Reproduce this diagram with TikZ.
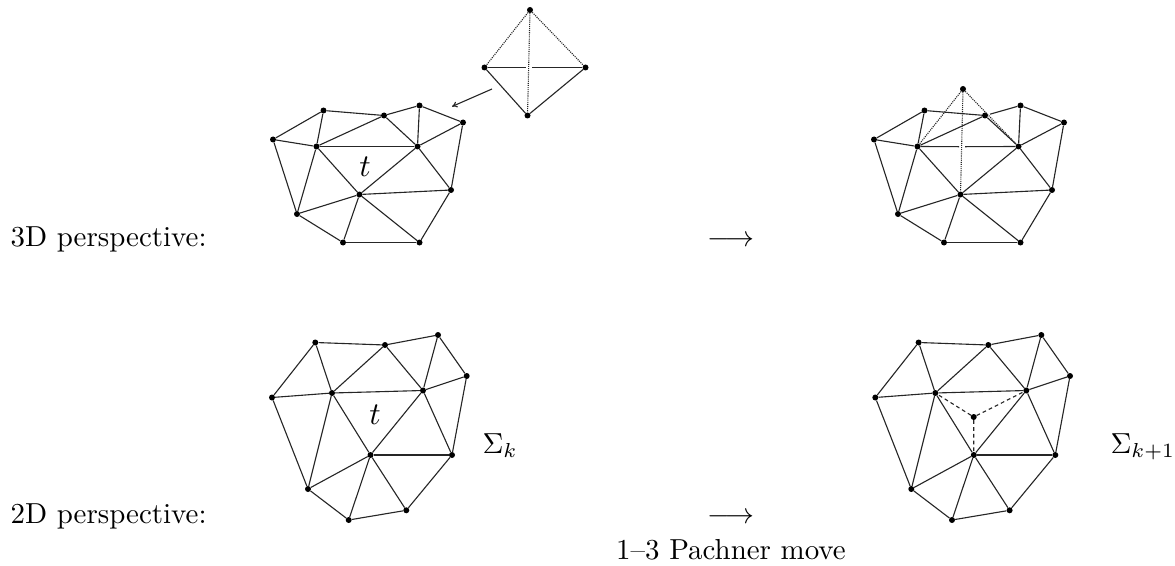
\documentclass[tikz,border=0pt]{standalone}
\usetikzlibrary{arrows.meta}
\tikzset{
  vertexdot/.style={circle, fill=black, inner sep=0pt, minimum size=0.18cm},
  edgeline/.style={line width=0.95pt, black!85},
  dottedline/.style={line width=0.95pt, black!85, dash pattern=on 0.9pt off 0.9pt},
  dashline/.style={line width=0.95pt, black!85, dash pattern=on 3.2pt off 2.6pt},
  movearrow/.style={-{To[length=1.6mm,width=1.8mm]}, line width=0.95pt, black!85},
  sidelabel/.style={scale=2.47, inner sep=0pt, anchor=base west},
  midlabel/.style={scale=2.47, inner sep=0pt, anchor=base},
  trianglelabel/.style={scale=2.7, inner sep=0pt, anchor=base},
}

% \threedmesh{prefix}{x offset}
\newcommand{\threedmesh}[2]{%
  \foreach \name/\px/\py in {a/273/139.5, b/323.5/110.5, c/384/115.5, d/419.5/105.5,
      e/463/122.5, f/316.5/146.5, g/417.5/146.5, h/451/190, i/359.5/194.5,
      j/297/214, k/343/242.5, l/419.5/242.5}
    \node[vertexdot] (#1\name) at (\px+#2,\py) {};
  \foreach \from/\to in {a/b, b/c, d/e, e/h, h/l, l/k, k/j, j/a, a/f, b/f, f/c, c/g,
      d/g, e/g, f/j, f/i, g/i, g/h, i/h, i/j, i/k, i/l}
    \draw[edgeline] (#1\from) -- (#1\to);
}
% \flatmesh{prefix}{x offset}
\newcommand{\flatmesh}[2]{%
  \foreach \name/\px/\py in {a/272/397.5, b/315.3/342.5, c/385/345, d/438/335,
      e/466.7/376, f/332/393, g/423/390.5, h/452/455, i/370.5/455,
      j/308/489, k/348.7/520, l/406.3/510.3}
    \node[vertexdot] (#1\name) at (\px+#2,\py) {};
  \foreach \from/\to in {a/b, b/c, c/d, d/e, e/h, h/l, l/k, k/j, j/a, a/f, b/f, c/f,
      c/g, d/g, e/g, f/g, f/j, f/i, g/i, g/h, i/h, i/j, i/k, i/l}
    \draw[edgeline] (#1\from) -- (#1\to);
}

\begin{document}
\begin{tikzpicture}[x=0.03cm, y=-0.03cm]
  \useasboundingbox (0,0) rectangle (1175,566);

  % top row, before the move
  \threedmesh{ta}{0}
  \draw[edgeline] (taf) -- (tag);
  \draw[edgeline] (tac) -- (tad);
  \node[trianglelabel] (tlabel) at (365,176.5) {$t$};

  % loose tetrahedron
  \node[vertexdot] (ptop) at (530,10) {};
  \node[vertexdot] (pleft) at (484.5,67.5) {};
  \node[vertexdot] (pright) at (585.5,67.5) {};
  \node[vertexdot] (pbottom) at (527.5,115.5) {};
  \coordinate (gapa) at (526,67.5);
  \coordinate (gapb) at (532,67.5);
  \draw[dottedline] (ptop) -- (pleft);
  \draw[dottedline] (ptop) -- (pright);
  \draw[dottedline] (ptop) -- (pbottom);
  \draw[edgeline] (pleft) -- (gapa);
  \draw[edgeline] (gapb) -- (pright);
  \draw[edgeline] (pleft) -- (pbottom);
  \draw[edgeline] (pright) -- (pbottom);
  \coordinate (arrowfrom) at (492,89);
  \coordinate (arrowto) at (452,106.5);
  \draw[movearrow] (arrowfrom) -- (arrowto);

  % top row, after the move
  \threedmesh{tb}{601}
  \node[vertexdot] (tbp) at (963,89) {};
  \coordinate (tbgapa) at (959,146.7);
  \coordinate (tbgapb) at (965,146.7);
  \coordinate (tbgapc) at (990,114.2);
  \draw[edgeline] (tbf) -- (tbgapa);
  \draw[edgeline] (tbgapb) -- (tbg);
  \draw[edgeline] (tbgapc) -- (tbd);
  \draw[dottedline] (tbp) -- (tbf);
  \draw[dottedline] (tbp) -- (tbg);
  \draw[dottedline] (tbp) -- (tbi);

  % bottom row
  \flatmesh{ba}{0}
  \node[trianglelabel] (blabel) at (375,424) {$t$};
  \flatmesh{bb}{603.3}
  \node[vertexdot] (bbp) at (973.7,417) {};
  \draw[dashline] (bbp) -- (bbf);
  \draw[dashline] (bbp) -- (bbg);
  \draw[dashline] (bbp) -- (bbi);

  % texts
  \node[sidelabel] (toptext) at (10,246.5) {3D perspective:};
  \node[sidelabel] (bottomtext) at (10,523) {2D perspective:};
  \node[midlabel] (toparrow) at (731,246.5) {$\longrightarrow$};
  \node[midlabel] (bottomarrow) at (731,523) {$\longrightarrow$};
  \node[midlabel] (movetext) at (731,559) {1--3 Pachner move};
  \node[sidelabel] (sigmak) at (482,453) {$\Sigma_k$};
  \node[sidelabel] (sigmakk) at (1110,453) {$\Sigma_{k+1}$};

\end{tikzpicture}
\end{document}
